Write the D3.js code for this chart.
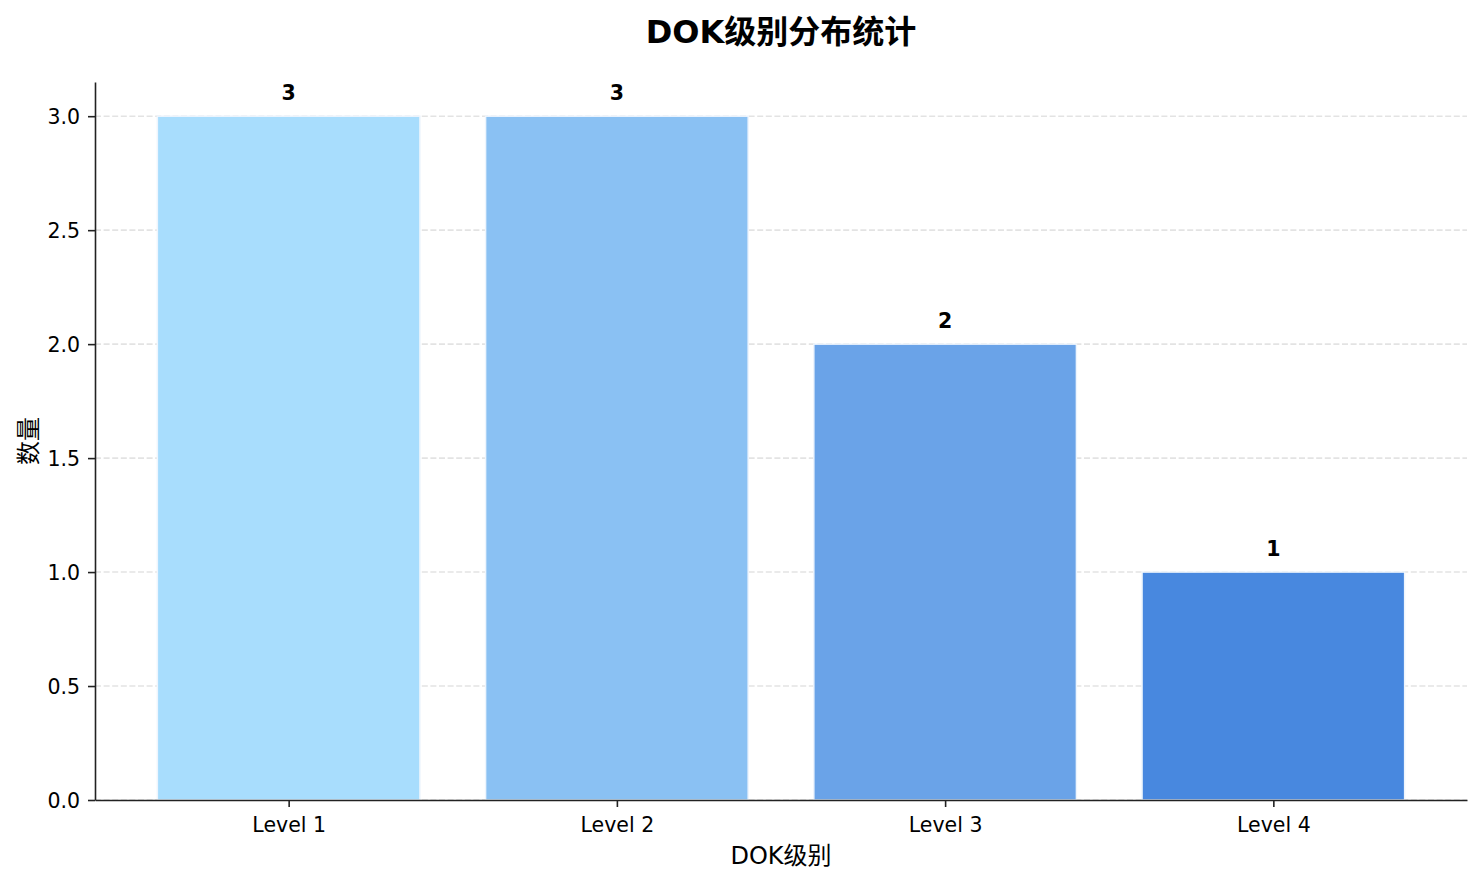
<!DOCTYPE html>
<html><head><meta charset="utf-8">
<script src="https://cdn.jsdelivr.net/npm/d3@7"></script>
<style>
html,body{margin:0;padding:0;background:#fff;}
text{font-family:"DejaVu Sans","Noto Sans CJK SC",sans-serif;}
</style></head>
<body><svg id="chart" width="1482" height="882"></svg>
<script>
const categories = ["Level 1", "Level 2", "Level 3", "Level 4"];
const counts = [3, 3, 2, 1];
const barColors = ["#a8ddfd", "#8ac1f3", "#6aa3e8", "#4888df"];
const yTicks = [0, 0.5, 1.0, 1.5, 2.0, 2.5, 3.0];
const titleText = "DOK级别分布统计";
const xLabelText = "DOK级别";
const yLabelText = "数量";

const svg = d3.select("#chart");
const m = {left: 95, right: 1467, top: 82, bottom: 800};

const x = d3.scaleLinear().domain([-0.59, categories.length - 1 + 0.59]).range([m.left, m.right]);
const y = d3.scaleLinear().domain([0, 3.15]).range([m.bottom, m.top]);
const barW = x(0.8) - x(0);

// grid
svg.append("g").selectAll("line").data(yTicks).join("line")
  .attr("x1", m.left).attr("x2", m.right)
  .attr("y1", d => y(d)).attr("y2", d => y(d))
  .attr("stroke", "#e3e3e3").attr("stroke-width", 1.6)
  .attr("stroke-dasharray", "6,2.6");

// bars
svg.append("g").selectAll("rect").data(counts).join("rect")
  .attr("x", (d, i) => x(i) - barW / 2)
  .attr("y", d => y(d))
  .attr("width", barW)
  .attr("height", d => y(0) - y(d))
  .attr("fill", (d, i) => barColors[i])
  .attr("stroke", "#eef5fd").attr("stroke-width", 1.5);

// value labels
svg.append("g").selectAll("text").data(counts).join("text")
  .attr("x", (d, i) => x(i))
  .attr("y", d => y(d + 0.05) - 5)
  .attr("text-anchor", "middle")
  .attr("font-size", 20.5).attr("font-weight", "bold").attr("fill", "#000")
  .text(d => d);

// axes
const xAxis = d3.axisBottom(x).tickValues(d3.range(categories.length))
  .tickFormat(i => categories[i]).tickSizeInner(7).tickSizeOuter(0).tickPadding(10);
const gx = svg.append("g").attr("transform", `translate(0,${m.bottom})`).call(xAxis);
gx.select(".domain").attr("stroke", "#222").attr("stroke-width", 1.6);
gx.selectAll(".tick line").attr("stroke", "#222").attr("stroke-width", 1.6);
gx.selectAll(".tick text").attr("font-size", 20.5).attr("fill", "#000")
  .attr("font-family", "DejaVu Sans");

const yAxis = d3.axisLeft(y).tickValues(yTicks).tickFormat(d3.format(".1f"))
  .tickSizeInner(7).tickSizeOuter(0).tickPadding(8);
const gy = svg.append("g").attr("transform", `translate(${m.left},0)`).call(yAxis);
gy.select(".domain").attr("stroke", "#222").attr("stroke-width", 1.6);
gy.selectAll(".tick line").attr("stroke", "#222").attr("stroke-width", 1.6);
gy.selectAll(".tick text").attr("font-size", 20.5).attr("fill", "#000")
  .attr("font-family", "DejaVu Sans").attr("dy", "0.36em");

// title
svg.append("text").attr("x", (m.left + m.right) / 2).attr("y", 43)
  .attr("text-anchor", "middle").attr("font-size", 32).attr("font-weight", "bold")
  .attr("fill", "#000").text(titleText);

// x label
svg.append("text").attr("x", (m.left + m.right) / 2).attr("y", 864)
  .attr("text-anchor", "middle").attr("font-size", 24).attr("fill", "#000")
  .text(xLabelText);

// y label
svg.append("text").attr("transform", `translate(37,${(m.top + m.bottom) / 2}) rotate(-90)`)
  .attr("text-anchor", "middle").attr("font-size", 24).attr("fill", "#000")
  .text(yLabelText);
</script></body></html>
